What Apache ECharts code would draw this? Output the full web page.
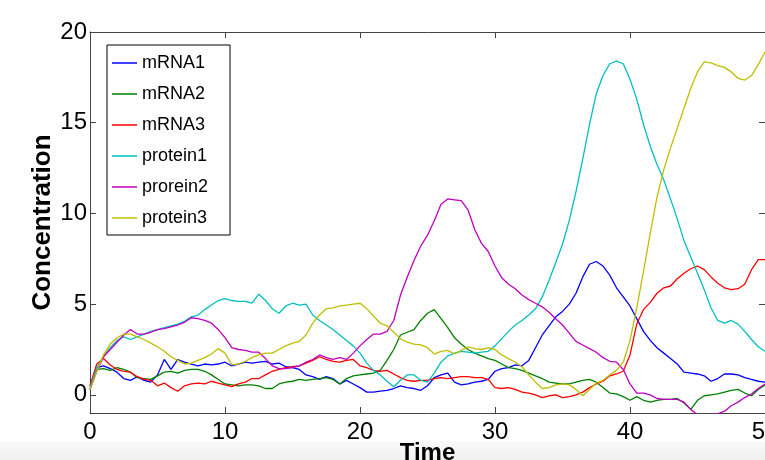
<!DOCTYPE html>
<html>
<head>
<meta charset="utf-8">
<script src="https://cdn.jsdelivr.net/npm/echarts@6/dist/echarts.min.js"></script>
<style>
    html, body { margin: 0; padding: 0; background: #fff; }
    #main { width: 765px; height: 460px; }
</style>
</head>
<body>
<div id="main"></div>
<script>
// time points (x axis)
const time = [0, 0.5, 1, 1.5, 2, 2.5, 3, 3.5, 4, 4.5, 5, 5.5, 6, 6.5, 7, 7.5, 8, 8.5, 9, 9.5,
    10, 10.5, 11, 11.5, 12, 12.5, 13, 13.5, 14, 14.5, 15, 15.5, 16, 16.5, 17, 17.5, 18, 18.5, 19, 19.5,
    20, 20.5, 21, 21.5, 22, 22.5, 23, 23.5, 24, 24.5, 25, 25.5, 26, 26.5, 27, 27.5, 28, 28.5, 29, 29.5,
    30, 30.5, 31, 31.5, 32, 32.5, 33, 33.5, 34, 34.5, 35, 35.5, 36, 36.5, 37, 37.5, 38, 38.5, 39, 39.5,
    40, 40.5, 41, 41.5, 42, 42.5, 43, 43.5, 44, 44.5, 45, 45.5, 46, 46.5, 47, 47.5, 48, 48.5, 49, 49.5, 50]

const mRNA1 = [0.5, 1.5, 1.6, 1.45, 1.25, 0.9, 0.8, 1.0, 0.8, 0.7, 1.1, 1.95, 1.4, 1.95, 1.8, 1.7, 1.6, 1.7, 1.65, 1.7,
    1.8, 1.6, 1.7, 1.8, 1.75, 1.8, 1.85, 1.7, 1.75, 1.55, 1.5, 1.4, 1.1, 1.0, 0.85, 1.0, 0.9, 0.6, 0.8, 0.6,
    0.4, 0.15, 0.15, 0.2, 0.25, 0.35, 0.5, 0.4, 0.35, 0.25, 0.5, 0.95, 1.1, 1.2, 0.7, 0.55, 0.6, 0.7, 0.75, 0.85,
    1.3, 1.45, 1.5, 1.65, 1.6, 1.9, 2.6, 3.3, 3.8, 4.3, 4.6, 5.0, 5.6, 6.5, 7.2, 7.35, 7.1, 6.6, 5.9, 5.4,
    4.9, 4.2, 3.5, 3.0, 2.6, 2.3, 2.0, 1.7, 1.25, 1.2, 1.15, 1.05, 0.75, 0.9, 1.15, 1.15, 1.1, 0.95, 0.85, 0.75, 0.7]

const mRNA2 = [0.3, 1.4, 1.45, 1.35, 1.5, 1.4, 1.25, 0.95, 0.9, 0.85, 1.05, 1.25, 1.3, 1.2, 1.35, 1.4, 1.4, 1.3, 1.1, 0.85,
    0.6, 0.55, 0.5, 0.55, 0.55, 0.5, 0.35, 0.35, 0.6, 0.7, 0.75, 0.85, 0.8, 0.85, 0.9, 0.95, 0.85, 0.6, 0.9, 1.05,
    1.1, 1.15, 1.2, 1.35, 1.9, 2.5, 3.3, 3.45, 3.6, 4.1, 4.5, 4.7, 4.2, 3.7, 3.15, 2.8, 2.5, 2.3, 2.15, 2.0,
    1.9, 1.7, 1.5, 1.45, 1.35, 1.2, 1.05, 0.9, 0.7, 0.65, 0.6, 0.6, 0.7, 0.8, 0.85, 0.7, 0.4, 0.1, 0.05, -0.1,
    -0.3, -0.1, -0.3, -0.4, -0.3, -0.25, -0.25, -0.2, -0.45, -0.8, -0.3, -0.05, 0.0, 0.05, 0.15, 0.25, 0.3, 0.1, -0.05, 0.3, 0.55]

const mRNA3 = [0.5, 1.7, 2.0, 1.65, 1.4, 1.3, 1.25, 1.0, 0.85, 0.8, 0.5, 0.65, 0.4, 0.2, 0.5, 0.6, 0.65, 0.6, 0.75, 0.65,
    0.55, 0.45, 0.6, 0.7, 0.9, 0.9, 1.1, 1.3, 1.4, 1.5, 1.55, 1.6, 1.75, 1.9, 2.1, 1.95, 1.85, 1.8, 1.9, 1.95,
    1.6, 1.5, 1.35, 1.3, 1.35, 1.15, 0.95, 0.8, 0.75, 0.8, 0.8, 0.9, 0.95, 0.9, 0.95, 1.0, 1.0, 0.95, 0.95, 0.85,
    0.4, 0.35, 0.4, 0.3, 0.15, 0.1, 0.0, -0.15, -0.05, 0.0, -0.15, -0.1, 0.0, 0.15, 0.4, 0.6, 0.75, 1.05, 1.15, 1.3,
    2.2, 3.9, 4.7, 5.1, 5.6, 5.9, 6.0, 6.4, 6.7, 6.95, 7.1, 6.9, 6.5, 6.15, 5.9, 5.8, 5.85, 6.1, 6.9, 7.45, 7.45]

const protein1 = [0.4, 1.5, 2.1, 2.6, 3.0, 3.2, 3.05, 3.2, 3.35, 3.5, 3.6, 3.7, 3.8, 3.9, 4.05, 4.3, 4.4, 4.7, 4.95, 5.2,
    5.3, 5.2, 5.15, 5.15, 5.05, 5.55, 5.2, 4.75, 4.5, 4.9, 5.05, 4.95, 5.0, 4.4, 4.1, 3.85, 3.6, 3.3, 3.0, 2.7,
    2.3, 1.75, 1.35, 1.1, 0.75, 0.45, 0.8, 1.1, 1.1, 0.8, 0.7, 1.2, 1.8, 2.15, 2.3, 2.4, 2.35, 2.3, 2.35, 2.4,
    2.7, 3.1, 3.5, 3.85, 4.1, 4.4, 4.75, 5.4, 6.3, 7.3, 8.3, 9.6, 11.2, 13.0, 14.9, 16.6, 17.6, 18.25, 18.4, 18.25,
    17.4, 16.3, 14.9, 13.7, 12.7, 11.85, 10.8, 9.7, 8.5, 7.6, 6.7, 5.8, 4.8, 4.1, 3.95, 4.1, 3.9, 3.5, 3.05, 2.65, 2.4]

const prorein2 = [0.3, 1.3, 2.1, 2.5, 2.9, 3.3, 3.6, 3.35, 3.35, 3.45, 3.6, 3.65, 3.75, 3.85, 4.0, 4.25, 4.2, 4.1, 3.95, 3.6,
    3.15, 2.6, 2.5, 2.45, 2.35, 2.35, 2.0, 1.6, 1.45, 1.45, 1.5, 1.6, 1.8, 1.95, 2.2, 2.05, 1.95, 2.05, 1.95, 2.3,
    2.7, 3.05, 3.35, 3.35, 3.5, 4.1, 5.5, 6.5, 7.4, 8.2, 8.8, 9.6, 10.5, 10.8, 10.75, 10.7, 10.2, 9.1, 8.35, 7.9,
    7.1, 6.45, 6.1, 5.85, 5.5, 5.25, 5.05, 4.85, 4.55, 4.2, 3.85, 3.4, 2.95, 2.75, 2.55, 2.35, 2.05, 1.85, 1.8, 1.4,
    0.6, 0.1, 0.1, 0.0, -0.2, -0.25, -0.25, -0.25, -0.4, -0.8, -1.1, -1.2, -1.15, -1.05, -0.9, -0.6, -0.4, -0.15, 0.05, 0.35, 0.6]

const protein3 = [0.3, 1.3, 2.2, 2.8, 3.15, 3.35, 3.35, 3.2, 3.05, 2.85, 2.65, 2.4, 2.1, 1.9, 1.7, 1.75, 1.9, 2.05, 2.25, 2.55,
    2.3, 1.65, 1.7, 1.85, 2.05, 2.2, 2.3, 2.3, 2.5, 2.7, 2.85, 2.95, 3.3, 3.95, 4.4, 4.75, 4.8, 4.9, 4.95, 5.0,
    5.05, 4.75, 4.35, 3.95, 3.8, 3.45, 3.1, 2.9, 2.8, 2.75, 2.6, 2.25, 2.4, 2.45, 2.25, 2.45, 2.65, 2.55, 2.5, 2.6,
    2.5, 2.2, 2.0, 1.8, 1.55, 1.1, 0.7, 0.35, 0.4, 0.55, 0.6, 0.55, 0.3, -0.05, 0.3, 0.65, 0.8, 1.1, 1.35, 1.8,
    3.0, 4.8, 6.8, 8.9, 10.9, 12.4, 13.6, 14.7, 15.8, 16.9, 17.8, 18.35, 18.3, 18.15, 18.05, 17.8, 17.45, 17.35, 17.6, 18.2, 18.9]

const names = ['mRNA1', 'mRNA2', 'mRNA3', 'protein1', 'prorein2', 'protein3']
const values = [mRNA1, mRNA2, mRNA3, protein1, prorein2, protein3]
const yTicks = [0, 5, 10, 15, 20]

function chart() {
    const myChart = echarts.init(document.getElementById('main'))
    const font = 'Liberation Sans, Arial, sans-serif'
    const frame = '#444'
    const option = {
        animation: false,
        color: ['#0000ff', '#008000', '#ff0000', '#00bfbf', '#bf00bf', '#bfbf00'],
        grid: { left: 90, right: 0, top: 32, bottom: 47, outerBoundsMode: 'none', containLabel: false },
        legend: {
            orient: 'vertical',
            left: 107,
            top: 45,
            data: names,
            icon: 'rect',
            backgroundColor: '#fff',
            borderColor: '#000',
            borderWidth: 1,
            padding: [9, 22, 8, 5],
            itemWidth: 25,
            itemHeight: 1.5,
            itemGap: 13,
            textStyle: { color: '#000', fontSize: 18, fontFamily: font }
        },
        graphic: [{
            type: 'rect',
            z: -10,
            shape: { x: 0, y: 441, width: 765, height: 19 },
            style: {
                fill: new echarts.graphic.LinearGradient(0, 0, 0, 1, [
                    { offset: 0, color: 'rgba(244,244,244,0.5)' },
                    { offset: 1, color: 'rgba(240,240,240,1)' }
                ])
            }
        }],
        xAxis: [
            {
                type: 'value', min: 0, max: 50, interval: 10,
                name: 'Time', nameLocation: 'middle', nameGap: 28, nameMoveOverlap: false,
                nameTextStyle: { color: '#000', fontSize: 24, fontWeight: 'bold', fontFamily: font },
                axisLine: { show: true, onZero: false, lineStyle: { color: frame } },
                axisTick: { inside: true, length: 6, lineStyle: { color: frame } },
                axisLabel: { color: '#000', fontSize: 24, fontFamily: font, margin: 7, showMaxLabel: true },
                splitLine: { show: false }
            },
            {
                type: 'value', min: 0, max: 50, interval: 10, position: 'top',
                axisLine: { show: true, onZero: false, lineStyle: { color: frame } },
                axisTick: { inside: true, length: 6, lineStyle: { color: frame } },
                axisLabel: { show: false },
                splitLine: { show: false }
            }
        ],
        yAxis: [
            {
                type: 'value', min: -1, max: 20,
                name: 'Concentration', nameLocation: 'middle', nameGap: 34, nameMoveOverlap: false,
                nameTextStyle: { color: '#000', fontSize: 26, fontWeight: 'bold', fontFamily: font },
                axisLine: { show: true, onZero: false, lineStyle: { color: frame } },
                axisTick: { show: true, inside: true, length: 6, customValues: yTicks, lineStyle: { color: frame } },
                axisLabel: { color: '#000', fontSize: 24, fontFamily: font, margin: 3, customValues: yTicks },
                splitLine: { show: false }
            },
            {
                type: 'value', min: -1, max: 20, position: 'right',
                axisLine: { show: true, onZero: false, lineStyle: { color: frame } },
                axisTick: { show: true, inside: true, length: 6, customValues: yTicks, lineStyle: { color: frame } },
                axisLabel: { show: false },
                splitLine: { show: false }
            }
        ],
        series: names.map(function (n, i) {
            return {
                name: n,
                type: 'line',
                symbol: 'none',
                clip: true,
                lineStyle: { width: 1.3 },
                data: time.map(function (t, k) { return [t, values[i][k]] })
            }
        })
    }
    myChart.setOption(option)
}
chart()
</script>
</body>
</html>
